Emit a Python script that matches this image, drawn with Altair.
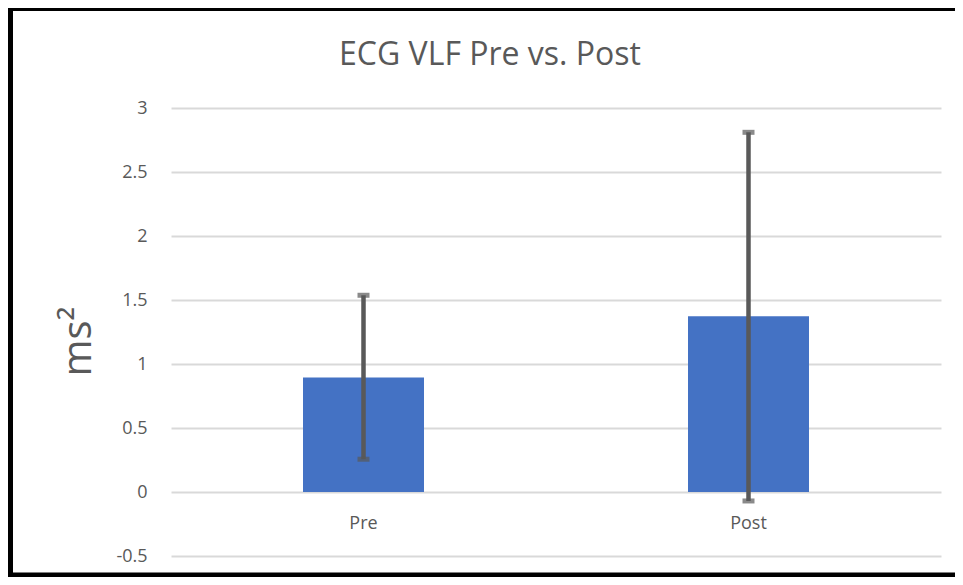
import altair as alt
import pandas as pd

categories = ["Pre", "Post"]
means = [0.894, 1.373]
err_low = [0.256, -0.07]
err_high = [1.537, 2.81]
title_text = "ECG VLF Pre vs. Post"

df = pd.DataFrame({"cat": categories, "mean": means, "lo": err_low, "hi": err_high})

FONT = "Open Sans"
GRAY = "#595959"

x_enc = alt.X("cat:N", sort=categories,
              scale=alt.Scale(paddingInner=0, paddingOuter=0),
              axis=alt.Axis(title=None, labelFontSize=18, labelColor=GRAY, labelFont=FONT,
                            labelAngle=0, ticks=False, domain=False, offset=-64,
                            labelPadding=22))
y_scale = alt.Scale(domain=[-0.5, 3], nice=False, zero=False)

bars = alt.Chart(df).mark_bar(color="#4472C4", size=121).encode(
    x=x_enc,
    y=alt.Y("mean:Q", scale=y_scale,
            axis=alt.Axis(values=[-0.5, 0, 0.5, 1, 1.5, 2, 2.5, 3],
                          labelExpr="datum.value + ''",
                          title="ms²", titleFontSize=40, titleFont=FONT, titleColor=GRAY,
                          titleFontWeight="normal", titleAngle=-90, titleX=-81, titleY=233,
                          titleAlign="center", titleBaseline="alphabetic",
                          labelFontSize=18, labelColor=GRAY, labelFont=FONT,
                          labelPadding=24, ticks=False, domain=False,
                          grid=True, gridColor="#d9d9d9", gridWidth=2)),
)

rules = alt.Chart(df).mark_rule(color=GRAY, strokeWidth=4.5).encode(
    x=alt.X("cat:N", sort=categories), y="lo:Q", y2="hi:Q")

cap_lo = alt.Chart(df).mark_tick(color=GRAY, size=12, thickness=5, orient="horizontal").encode(
    x=alt.X("cat:N", sort=categories), y="lo:Q")
cap_hi = alt.Chart(df).mark_tick(color=GRAY, size=12, thickness=5, orient="horizontal").encode(
    x=alt.X("cat:N", sort=categories), y="hi:Q")

title = alt.Chart(pd.DataFrame({"t": [title_text]})).mark_text(
    font=FONT, fontSize=32, color=GRAY, align="center", baseline="alphabetic").encode(
    text="t:N", x=alt.value(319), y=alt.value(-43))

one = df.head(1)
b_left = alt.Chart(one).mark_rule(color="black", strokeWidth=5).encode(
    x=alt.value(-160.5), y=alt.value(-102), y2=alt.value(469.5))
b_top = alt.Chart(one).mark_rule(color="black", strokeWidth=5).encode(
    x=alt.value(-163), x2=alt.value(784), y=alt.value(-99.5))
b_bottom = alt.Chart(one).mark_rule(color="black", strokeWidth=5).encode(
    x=alt.value(-163), x2=alt.value(784), y=alt.value(467))

chart = alt.layer(bars, rules, cap_lo, cap_hi, title, b_left, b_top, b_bottom).properties(
    width=770, height=448,
    autosize=alt.AutoSizeParams(type="none"),
    padding={"left": 163, "top": 100, "right": 14, "bottom": 21},
).configure(background="white").configure_view(stroke=None)

chart.save("out.html", embed_options={"renderer": "svg", "actions": False})
